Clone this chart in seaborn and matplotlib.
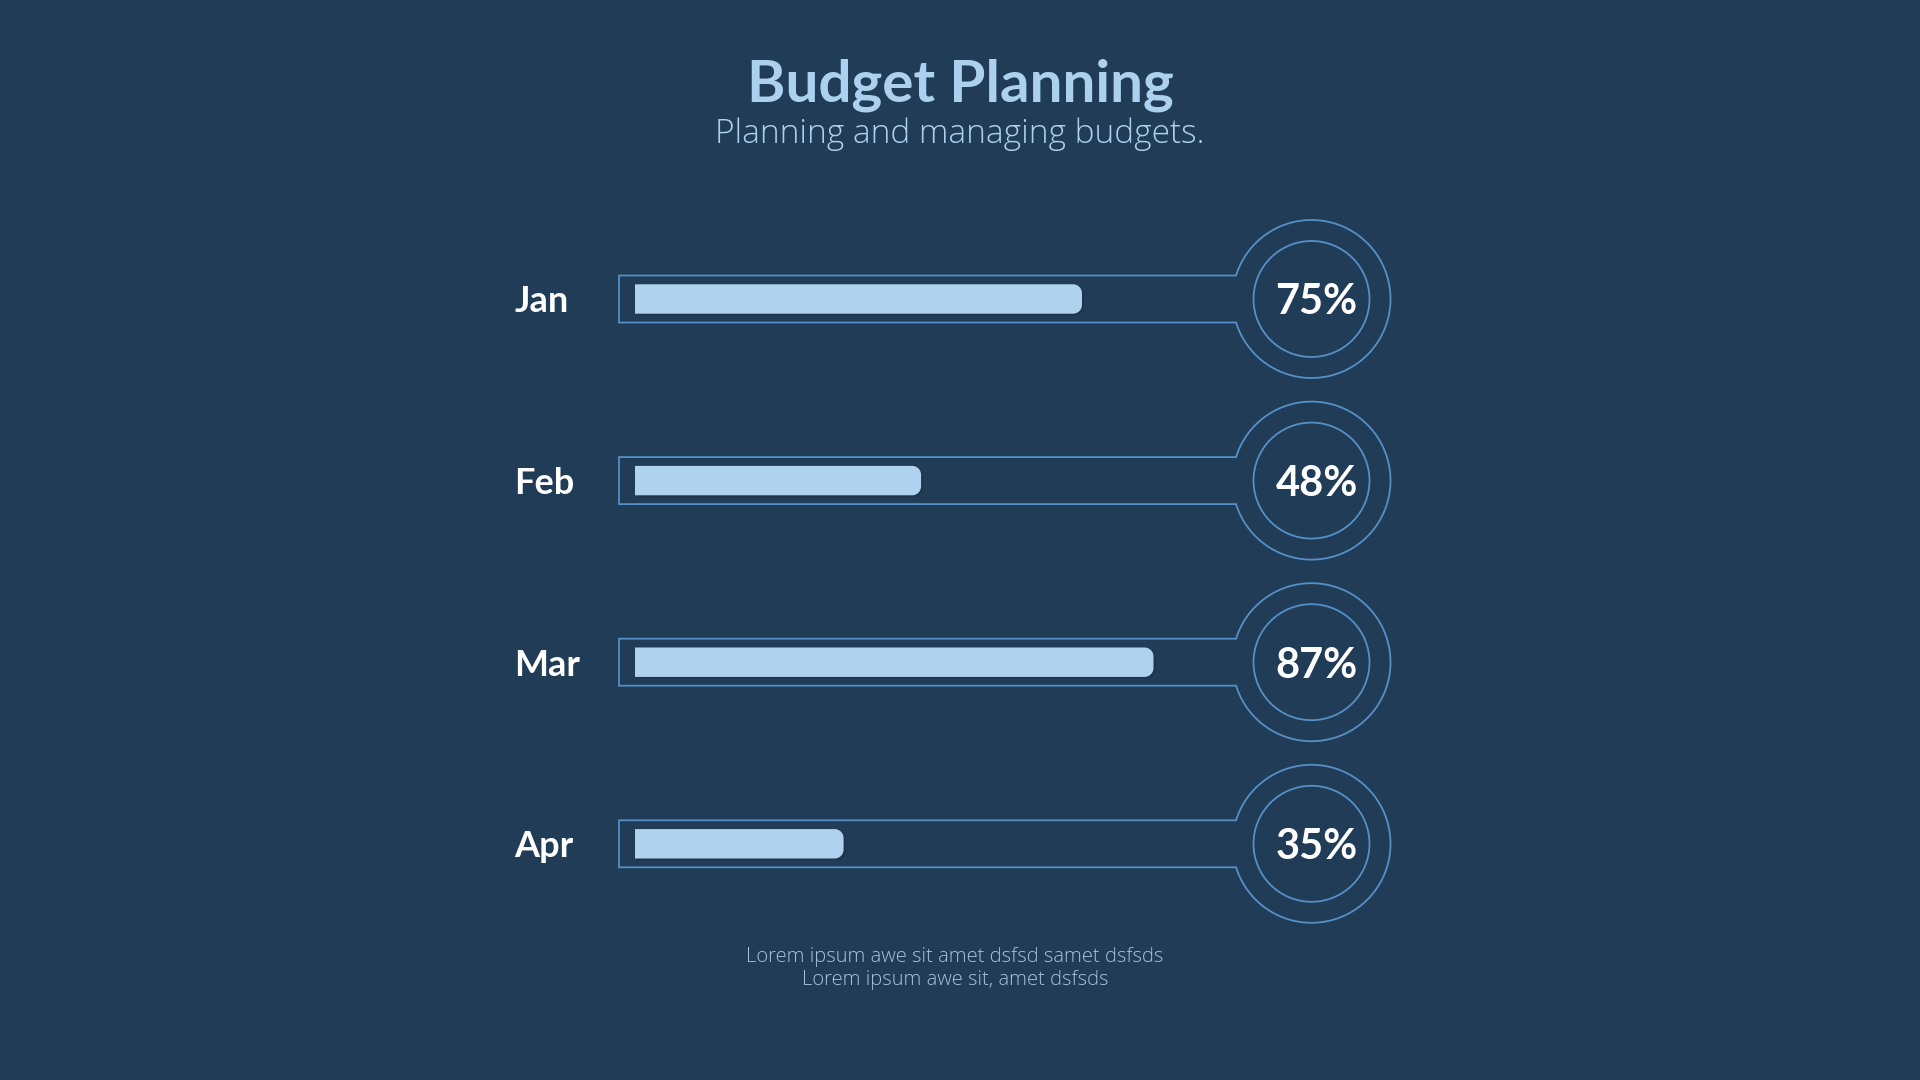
import numpy as np
import pandas as pd
import matplotlib
matplotlib.use("Agg")
import matplotlib.pyplot as plt
import seaborn as sns
from matplotlib.patches import Circle, Polygon

# data
months = ["Jan", "Feb", "Mar", "Apr"]
budget_pct = [75, 48, 87, 35]

title = "Budget Planning"
subtitle = "Planning and managing budgets."
footer = "Lorem ipsum awe sit amet dsfsd samet dsfsds\nLorem ipsum awe sit, amet dsfsds"

# colours
BG = "#213c56"
BAR = "#afd2ee"
LINE = "#5590c8"
TITLE_C = "#acd1ef"
FOOT_C = "#a7c2da"

sns.set_theme(style="white")
plt.rcParams["font.family"] = ["Lato", "DejaVu Sans"]

df = pd.DataFrame({"month": months, "pct": budget_pct})

fig = plt.figure(figsize=(19.2, 10.8), dpi=100, facecolor=BG)

# background axes in pixel units for the decorations
bg = fig.add_axes([0, 0, 1, 1])
bg.set_xlim(0, 1920)
bg.set_ylim(1080, 0)
bg.axis("off")

# bar axes: 0..100 % spans the track, one row every ~182 px
row_gap = 181.6
top_px = 299 - row_gap / 2
ax = fig.add_axes([635 / 1920, 1 - (top_px + len(months) * row_gap) / 1080,
                   596 / 1920, len(months) * row_gap / 1080])
ax.patch.set_alpha(0)
sns.barplot(data=df, x="pct", y="month", orient="h", color=BAR,
            width=0.162, saturation=1, ax=ax)
ax.set_xlim(0, 100)
ax.set_ylim(len(months) - 0.5, -0.5)
ax.set_xlabel("")
ax.set_ylabel("")
ax.set_xticks([])
sns.despine(ax=ax, left=True, bottom=True)
ax.set_yticks(range(len(months)))
ax.set_yticklabels(months, ha="left", fontsize=26, fontweight="bold", color="white")
ax.tick_params(axis="y", length=0, pad=87)

# bar axes -> pixel axes
to_px = ax.transData + bg.transData.inverted()


def bar_shape(xl, yt, w, h, r=9):
    # square left end, rounded right end
    t1 = np.linspace(-np.pi / 2, 0, 20)
    t2 = np.linspace(0, np.pi / 2, 20)
    xr = xl + w
    top_arc = np.column_stack([xr - r + r * np.cos(t1), yt + r + r * np.sin(t1)])
    bot_arc = np.column_stack([xr - r + r * np.cos(t2), yt + h - r + r * np.sin(t2)])
    return np.vstack([[(xl, yt)], top_arc, bot_arc, [(xl, yt + h)]])


# rounded bars replacing seaborn's rectangles
for p in ax.patches:
    p.set_visible(False)
    (x0, y0), (x1, y1) = to_px.transform([(p.get_x(), p.get_y()),
                                          (p.get_x() + p.get_width(), p.get_y() + p.get_height())])
    xl, xr = min(x0, x1), max(x0, x1)
    yt, yb = min(y0, y1), max(y0, y1)
    w, h = xr - xl, yb - yt
    bg.add_patch(Polygon(bar_shape(xl + 2, yt + 2, w, h), closed=True,
                         fc="#132638", ec="none", alpha=0.3, zorder=2))
    bg.add_patch(Polygon(bar_shape(xl, yt, w, h), closed=True,
                         fc=BAR, ec="none", zorder=3))

# track + ring outlines and value labels
cx, R, r_in, half_h, x_left = 1311.5, 79, 58, 23.5, 619
a = np.arcsin(half_h / R)
theta = np.linspace(np.pi + a, 3 * np.pi - a, 240)
xi = cx - np.sqrt(R ** 2 - half_h ** 2)

for i, v in enumerate(budget_pct):
    cy = to_px.transform((0, i))[1]
    arc = np.column_stack([cx + R * np.cos(theta), cy + R * np.sin(theta)])
    verts = np.vstack([[(x_left, cy - half_h), (xi, cy - half_h)], arc, [(x_left, cy + half_h)]])
    bg.add_patch(Polygon(verts, closed=True, fill=False, ec=LINE, lw=1.3, zorder=1))
    bg.add_patch(Circle((cx, cy), r_in, fill=False, ec=LINE, lw=1.3, zorder=1))
    bg.text(cx + 5, cy, f"{v}%", ha="center", va="center_baseline", fontsize=30,
            fontweight="bold", color="white", zorder=4)

# titles
bg.text(960, 101, title, ha="center", va="baseline", fontsize=42, fontweight="bold", color=TITLE_C)
bg.text(960, 143, subtitle, ha="center", va="baseline", fontsize=24,
        family=["Open Sans", "DejaVu Sans"], fontweight="light", color=TITLE_C)
bg.text(955, 968.5, footer, ha="center", va="center", fontsize=14.5,
        family=["Open Sans", "DejaVu Sans"], fontweight="light", color=FOOT_C)

fig.savefig("out.png", dpi=100, facecolor=BG)
